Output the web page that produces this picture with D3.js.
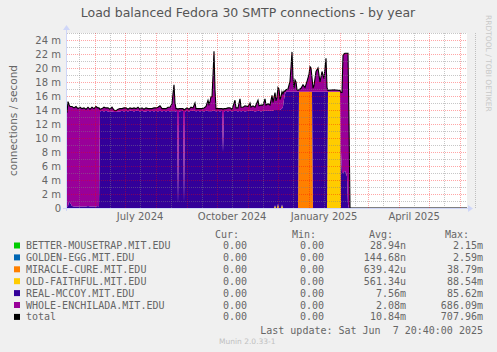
<!DOCTYPE html>
<html lang="en">
<head>
<meta charset="UTF-8">
<title>Load balanced Fedora 30 SMTP connections - by year</title>
<style>
  body { margin: 0; background: #f0f0f0; }
  svg { display: block; }
  text { font-family: "DejaVu Sans", sans-serif; fill: #666; }
  .mono { font-family: "DejaVu Sans Mono", monospace; font-size: 10px; white-space: pre; }
</style>
</head>
<body>
<svg width="497" height="352"></svg>
<script src="https://cdn.jsdelivr.net/npm/d3@7/dist/d3.min.js"></script>
<script>
// days since the start of the 400 day window (2024-05-03 20:40)
var days = [0,1,2,3,5,7,9,11,13,15,17,19,21,23,25,27,29,31,32,33,
  35,37,39,41,43,45,47,49,51,53,55,57,59,61,63,65,67,69,71,73,
  75,77,79,81,83,85,87,89,91,93,95,97,99,101,103,105,106,107,108,109,
  110,111,112,116,117,118,120,122,124,126,128,129,131,133,135,137,139,141,142,143,
  144,145,146,147,148,149,151,153,155,156,157,159,161,163,165,168,169,171,173,174,
  176,178,181,183,184,186,188,191,192,194,196,198,199,201,203,205,206,207,208,209,
  210,211,212,213,214,215,216,217,218,219,221,223,224,225,226,227,228,229,230,231,
  232,234,236,238,240,242,243,244,245,246,247,249,251,253,255,257,259,260,261,267,
  273,274,275,276,277,278,279,280,281,282,283,400];

// connections / second, in milli
var miracleCure = [0,0,0,0,0,0,0,0,0,0,0,0,0,0,0,0,0,0,0,0,
  0,0,0,0,0,0,0,0,0,0,0,0,0,0,0,0,0,0,0,0,
  0,0,0,0,0,0,0,0,0,0,0,0,0,0,0,0,0,0,0,0,
  0,0,0,0,0,0,0,0,0,0,0,0,0,0,0,0,0,0,0,0,
  0,0,0,0,0,0,0,0,0,0,0,0,0,0,0,0,0,0,0,0,
  0,0,0,0,0,0,0,0,0,0,0,0,0,0,0,0,0,0,0,0,
  0,0,0,0,0,0,0,0,0,0,0,0,0,0,0,0,0,0,0,0,
  16.6,16.6,16.6,16.6,16.6,16.6,16.6,16.6,16.6,0,0,0,0,0,0,0,0,0,0,0,
  0,0,0,0,0,0,0,0,0,0,0,0];
var oldFaithful = [0,0,0,0,0,0,0,0,0,0,0,0,0,0,0,0,0,0,0,0,
  0,0,0,0,0,0,0,0,0,0,0,0,0,0,0,0,0,0,0,0,
  0,0,0,0,0,0,0,0,0,0,0,0,0,0,0,0,0,0,0,0,
  0,0,0,0,0,0,0,0,0,0,0,0,0,0,0,0,0,0,0,0,
  0,0,0,0,0,0,0,0,0,0,0,0,0,0,0,0,0,0,0,0,
  0,0,0,0,0,0,0,0,0,0,0,0,0,0,0,0,0,0,0.4,0,
  0,0.6,0,0,0,0.5,0,0,0,0,0,0,0,0,0,0,0,0,0,0,
  0,0,0,0,0,0,0,0,0,0,0,0,0,0,0,0,0,0,16.6,16.6,
  16.6,0,0,0,0,0,0,0,0,0,0,0];
var realMccoy = [0.2,0.3,0.9,0.8,0.3,0.2,0.2,0.2,0.2,0.2,0.2,0.2,0.3,0.2,0.2,0.2,0.2,0.3,0.2,13.8,
  13.9,13.8,13.9,13.8,13.7,13.8,13.7,13.7,13.8,13.8,13.9,13.8,13.9,13.8,13.9,13.9,13.8,13.9,13.9,13.8,
  13.9,13.8,13.8,13.9,13.8,13.9,13.8,13.9,13.8,13.9,13.8,13.9,13.8,13.9,13.8,13.9,13.8,13.9,13.8,13.8,
  13.9,0.5,13.8,13.9,0.8,13.8,13.9,13.8,13.9,13.9,13.9,13.8,13.9,13.8,13.9,13.8,13.9,13.9,13.8,13.9,
  13.8,13.9,13.9,13.9,13.9,13.8,13.9,13.8,13.9,8.0,13.8,13.9,13.8,13.9,13.8,13.9,13.9,13.8,13.9,13.8,
  13.9,13.8,13.9,13.9,13.9,13.9,13.8,13.9,13.9,13.8,13.9,13.9,13.9,13.9,13.9,13.9,13.9,14.0,13.6,14.0,
  14.0,13.4,14.0,14.0,14.1,13.7,14.5,15.5,16.3,16.6,16.6,16.6,16.6,16.6,16.6,16.6,16.6,16.6,16.6,16.6,
  0,0,0,0,0,0,0,0,0,16.6,16.6,16.6,16.6,16.6,16.6,16.6,16.6,16.6,0,0,
  0,8.0,5.0,5.0,5.2,5.3,5.0,4.5,0.5,0,0,0];
var wholeEnchilada = [13.4,14.9,13.9,13.7,14.2,14.1,14.3,14.0,14.2,14.0,14.1,13.9,14.1,13.9,14.2,14.0,14.3,14.0,14.1,0.3,
  0.3,0.6,0.4,0.5,0.4,0.6,0.3,0.2,0.3,0.4,0.3,0.5,0.4,0.3,0.4,0.3,0.5,0.3,0.5,0.3,
  0.4,0.3,0.5,0.3,0.4,0.3,0.5,0.4,0.6,0.7,0.4,0.3,0.4,0.5,0.6,1.0,2.5,3.7,1.2,0.4,
  0.3,13.6,0.4,0.3,13.2,0.3,0.4,0.3,0.5,0.4,1.1,0.4,0.3,0.4,0.3,0.5,0.6,1.5,1.0,1.3,
  2.1,2.0,5.0,8.5,3.0,0.4,0.3,0.4,0.3,6.1,0.4,0.3,0.5,0.4,0.3,1.5,0.4,0.5,1.7,0.6,
  0.5,0.8,0.6,1.1,0.5,0.7,0.6,1.5,0.7,0.9,0.8,1.7,0.8,1.0,0.8,2.2,1.2,1.8,2.5,1.3,
  1.8,3.2,3.0,1.5,1.8,2.4,1.8,1.2,0.4,0.3,0.4,1.5,3.5,5.7,2.0,0.5,1.7,1.4,0.3,0.2,
  0.3,0.5,1.0,0.6,1.5,2.5,3.6,3.4,2.0,0.5,0.9,2.9,3.4,1.4,2.9,1.9,4.8,0.6,0.2,0.3,
  0.2,8.5,11.5,16.8,16.8,16.8,17.1,17.6,21.6,12.0,0,0];

var hosts = ["BETTER-MOUSETRAP.MIT.EDU", "GOLDEN-EGG.MIT.EDU", "MIRACLE-CURE.MIT.EDU",
  "OLD-FAITHFUL.MIT.EDU", "REAL-MCCOY.MIT.EDU", "WHOLE-ENCHILADA.MIT.EDU", "total"];
var hostColors = ["#00cc00", "#0066b3", "#ff8000", "#ffcc00", "#330099", "#990099", "#000000"];
var curVals = ["0.00", "0.00", "0.00", "0.00", "0.00", "0.00", "0.00"];
var minVals = ["0.00", "0.00", "0.00", "0.00", "0.00", "0.00", "0.00"];
var avgVals = ["28.94n", "144.68n", "639.42u", "561.34u", "7.56m", "2.08m", "10.84m"];
var maxVals = ["2.15m", "2.59m", "38.79m", "88.54m", "85.62m", "686.09m", "707.96m"];
var yTicks = [0, 2, 4, 6, 8, 10, 12, 14, 16, 18, 20, 22, 24];
var labelMonths = ["2024-07-01", "2024-10-01", "2025-01-01", "2025-04-01"];

var svg = d3.select("svg");
var t0 = new Date(2024, 4, 3, 20, 40), t1 = new Date(2025, 5, 7, 20, 40);
var pLeft = 67, pRight = 467, pTop = 33, pBottom = 208;

var x = d3.scaleTime().domain([t0, t1]).range([pLeft, pRight]);
var y = d3.scaleLinear().domain([0, 25]).range([pBottom, pTop]);

var rows = days.map(function(d, i) {
  return {date: d3.timeMinute.offset(t0, d * 1440), mc: miracleCure[i], of: oldFaithful[i],
          rm: realMccoy[i], we: wholeEnchilada[i]};
});
var keys = ["mc", "of", "rm", "we"];
var keyColors = {mc: "#ff8000", of: "#ffcc00", rm: "#330099", we: "#990099"};

// canvas
svg.append("rect").attr("x", pLeft).attr("y", pTop).attr("width", pRight - pLeft).attr("height", pBottom - pTop)
  .attr("fill", "#fff");

var area = d3.area()
  .x(function(d) { return x(d.data.date); })
  .y0(function(d) { return y(d[0]); })
  .y1(function(d) { return y(d[1]); });

svg.append("g").selectAll("path")
  .data(d3.stack().keys(keys)(rows))
  .enter().append("path")
  .attr("fill", function(d) { return keyColors[d.key]; })
  .attr("d", area);

svg.append("path")
  .datum(rows)
  .attr("fill", "none")
  .attr("stroke", "#000")
  .attr("stroke-width", 1.1)
  .attr("d", d3.line()
    .x(function(d) { return x(d.date); })
    .y(function(d) { return y(d.mc + d.of + d.rm + d.we); }));

// grid on top of the data, like rrdtool
var months = d3.timeMonth.range(t0, t1);
var halfMonths = d3.timeMonth.range(d3.timeMonth.floor(t0), t1)
  .map(function(d) { return d3.timeDay.offset(d, 15); })
  .filter(function(d) { return d > t0; });
var grid = svg.append("g").attr("shape-rendering", "crispEdges").attr("stroke-dasharray", "1,1");
grid.selectAll(".gy").data(d3.range(1, 26, 2)).enter().append("line")
  .attr("x1", pLeft).attr("x2", pRight)
  .attr("y1", function(d) { return Math.round(y(d)) + 0.5; })
  .attr("y2", function(d) { return Math.round(y(d)) + 0.5; })
  .attr("stroke", "rgba(130,130,130,0.45)");
grid.selectAll(".gx").data(halfMonths).enter().append("line")
  .attr("x1", function(d) { return Math.round(x(d)) + 0.5; })
  .attr("x2", function(d) { return Math.round(x(d)) + 0.5; })
  .attr("y1", pTop).attr("y2", pBottom)
  .attr("stroke", "rgba(130,130,130,0.45)");
grid.selectAll(".my").data(yTicks.slice(1)).enter().append("line")
  .attr("x1", pLeft).attr("x2", pRight)
  .attr("y1", function(d) { return Math.round(y(d)) + 0.5; })
  .attr("y2", function(d) { return Math.round(y(d)) + 0.5; })
  .attr("stroke", "rgba(255,0,0,0.35)");
grid.selectAll(".mx").data(months).enter().append("line")
  .attr("x1", function(d) { return Math.round(x(d)) + 0.5; })
  .attr("x2", function(d) { return Math.round(x(d)) + 0.5; })
  .attr("y1", pTop).attr("y2", pBottom)
  .attr("stroke", "rgba(255,0,0,0.35)");

// axes with arrows
var axisCol = "#cfd6f8";
svg.append("line").attr("x1", pLeft - 4).attr("x2", pRight + 2).attr("y1", pBottom + 0.5).attr("y2", pBottom + 0.5)
  .attr("stroke", axisCol);
svg.append("line").attr("x1", pLeft - 0.5).attr("x2", pLeft - 0.5).attr("y1", pBottom + 3).attr("y2", pTop - 3)
  .attr("stroke", axisCol);
svg.append("path").attr("d", "M" + (pRight + 1) + "," + (pBottom - 3) + "L" + (pRight + 6) + "," + (pBottom + 0.5) +
  "L" + (pRight + 1) + "," + (pBottom + 4) + "Z").attr("fill", axisCol);
svg.append("path").attr("d", "M" + (pLeft - 4) + "," + (pTop - 3) + "L" + (pLeft - 0.5) + "," + (pTop - 8) +
  "L" + (pLeft + 3) + "," + (pTop - 3) + "Z").attr("fill", axisCol);

// y tick labels
svg.append("g").selectAll("text").data(yTicks).enter().append("text")
  .attr("x", pLeft - 6).attr("y", function(d) { return y(d); }).attr("dy", "0.35em")
  .attr("text-anchor", "end").style("font-size", "10px")
  .text(function(d) { return d === 0 ? "0" : d + " m"; });

// x labels sit half a month after the month line
var parse = d3.timeParse("%Y-%m-%d"), fmt = d3.timeFormat("%B %Y");
svg.append("g").selectAll("text").data(labelMonths.map(parse)).enter().append("text")
  .attr("x", function(d) { return x(d3.timeDay.offset(d, 15)); }).attr("y", pBottom + 8).attr("dy", "0.35em")
  .attr("text-anchor", "middle").style("font-size", "10px")
  .text(fmt);

svg.append("text").attr("x", 248).attr("y", 13).attr("dy", "0.35em").attr("text-anchor", "middle")
  .style("font-size", "12.5px").style("fill", "#555")
  .text("Load balanced Fedora 30 SMTP connections - by year");

svg.append("text").attr("transform", "translate(13," + ((pTop + pBottom) / 2) + ") rotate(-90)")
  .attr("dy", "0.35em").attr("text-anchor", "middle").style("font-size", "10.5px")
  .text("connections / second");

svg.append("text").attr("transform", "translate(489,15) rotate(90)")
  .attr("dy", "0.35em").style("font-size", "7.5px").style("fill", "#c8c8c8")
  .text("RRDTOOL / TOBI OETIKER");

// legend
var rowY = function(i) { return 245.5 + i * 11.9; };
[["Cur:", 239], ["Min:", 316], ["Avg:", 393], ["Max:", 469]].forEach(function(h) {
  svg.append("text").attr("class", "mono").attr("x", h[1]).attr("y", 234).attr("dy", "0.35em")
    .attr("text-anchor", "end").text(h[0]);
});
var leg = svg.append("g").selectAll("g").data(hosts).enter().append("g")
  .attr("transform", function(d, i) { return "translate(0," + rowY(i) + ")"; });
leg.append("rect").attr("x", 14).attr("y", -3).attr("width", 6).attr("height", 6)
  .attr("fill", function(d, i) { return hostColors[i]; });
leg.append("text").attr("class", "mono").attr("x", 26).attr("dy", "0.35em").text(function(d) { return d; });
[[curVals, 247], [minVals, 324], [avgVals, 406], [maxVals, 483]].forEach(function(c) {
  leg.append("text").attr("class", "mono").attr("x", c[1]).attr("dy", "0.35em").attr("text-anchor", "end")
    .text(function(d, i) { return c[0][i]; });
});
svg.append("text").attr("class", "mono").attr("x", 483).attr("y", 330).attr("dy", "0.35em")
  .attr("text-anchor", "end").text("Last update: Sat Jun  7 20:40:00 2025");
svg.append("text").attr("x", 219).attr("y", 341).attr("dy", "0.35em").style("font-size", "7.5px")
  .style("fill", "#c0c0c0").text("Munin 2.0.33-1");
</script>
</body>
</html>
